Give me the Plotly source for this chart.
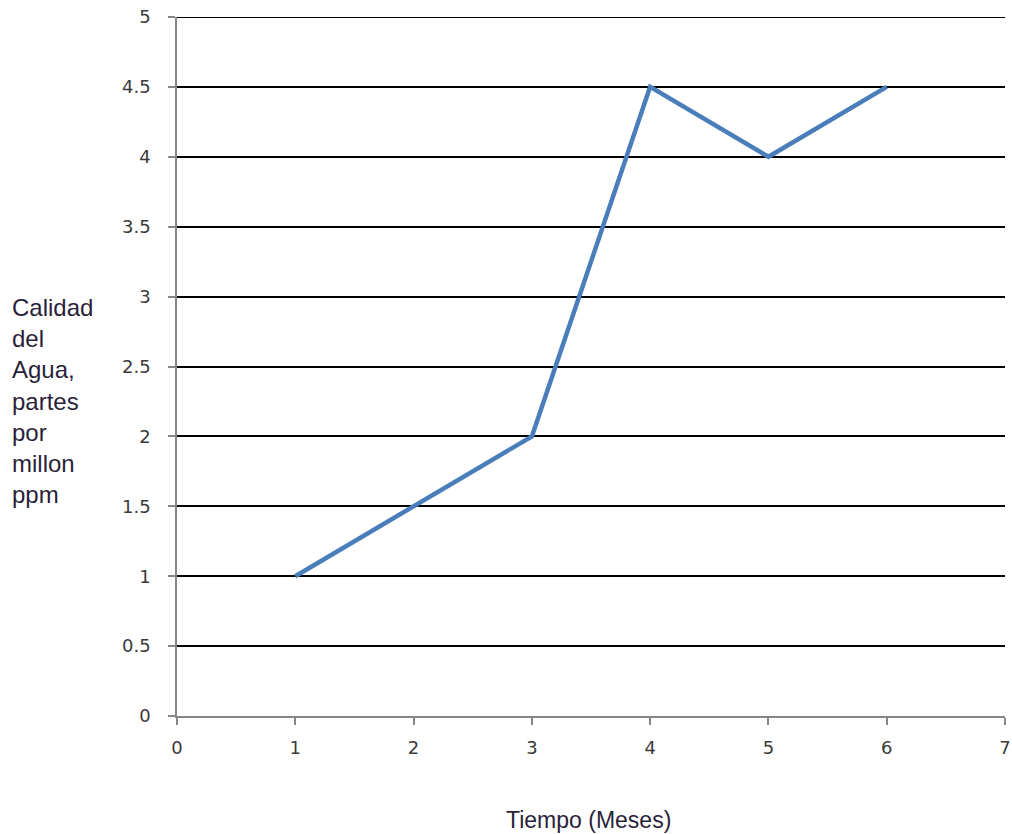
import plotly.graph_objects as go

months = [1, 2, 3, 4, 5, 6]
quality = [1, 1.5, 2, 4.5, 4, 4.5]
y_ticks = [0, 0.5, 1, 1.5, 2, 2.5, 3, 3.5, 4, 4.5, 5]
x_ticks = [0, 1, 2, 3, 4, 5, 6, 7]
y_title_lines = ["Calidad", "del", "Agua,", "partes", "por", "millon", "ppm"]
x_title = "Tiempo (Meses)"

fig = go.Figure()
fig.add_trace(go.Scatter(x=months, y=quality, mode="lines",
                         line=dict(color="#4a7ebb", width=4.5), showlegend=False,
                         cliponaxis=False))

axis_common = dict(zeroline=False, showline=True, linecolor="#868686", linewidth=1.5,
                   ticks="outside", ticklen=7, tickcolor="#868686", tickwidth=1.5,
                   ticklabeloverflow="allow", automargin=False,
                   tickfont=dict(family="DejaVu Sans", size=18, color="#3a3a3a"))

fig.update_layout(
    width=1012, height=834,
    margin=dict(l=177, r=7, t=17, b=118),
    paper_bgcolor="white", plot_bgcolor="white",
    font=dict(family="Liberation Sans, Arial", color="#595959"),
    xaxis=dict(range=[0, 7], tickvals=x_ticks, ticktext=[str(v) for v in x_ticks],
               showgrid=False, ticklabelstandoff=8, **axis_common),
    yaxis=dict(range=[0, 5], tickvals=y_ticks, ticktext=[f"{v:g}" for v in y_ticks],
               showgrid=True, gridcolor="black", gridwidth=2,
               ticklabelstandoff=14, **axis_common),
    shapes=[dict(type="line", xref="paper", yref="y", x0=0, x1=1,
                 y0=y_ticks[-1], y1=y_ticks[-1], line=dict(color="black", width=2), layer="below")],
    annotations=[
        dict(text="<br>".join(y_title_lines), xref="paper", yref="paper",
             x=-0.2015, y=0.45, xanchor="left", yanchor="middle", align="left", showarrow=False,
             font=dict(family="Liberation Sans, Arial", size=24, color="#2a1f3a")),
        dict(text=x_title, xref="paper", yref="paper", x=0.4975, y=-0.149,
             xanchor="center", yanchor="middle", showarrow=False,
             font=dict(family="Liberation Sans, Arial", size=23, color="#2a1f3a")),
    ],
)

fig.write_html("out.html", config={"displayModeBar": False},
               post_script="document.body.style.margin='0';document.body.style.overflow='hidden';")
